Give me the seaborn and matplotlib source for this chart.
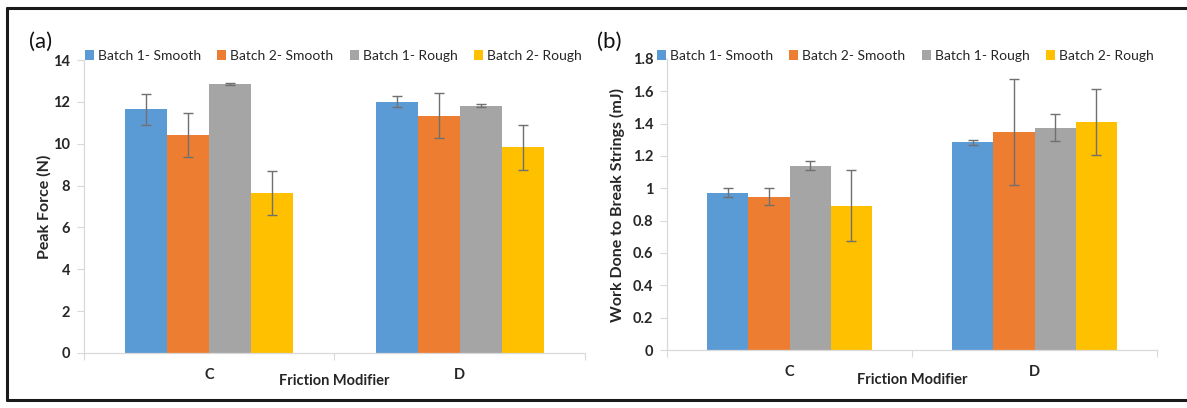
import matplotlib
matplotlib.use("Agg")
import matplotlib.pyplot as plt
import matplotlib.patches as mpatches
import matplotlib.lines as mlines
import seaborn as sns
import pandas as pd
import numpy as np

# ---- data ----
categories = ["C", "D"]
series = ["Batch 1- Smooth", "Batch 2- Smooth", "Batch 1- Rough", "Batch 2- Rough"]
colors = ["#5B9BD5", "#ED7D31", "#A5A5A5", "#FFC000"]

force_C = [11.64, 10.43, 12.85, 7.66]
force_D = [12.01, 11.34, 11.82, 9.83]
force_err_C = [0.73, 1.06, 0.04, 1.05]
force_err_D = [0.25, 1.07, 0.08, 1.07]

work_C = [0.974, 0.949, 1.139, 0.892]
work_D = [1.284, 1.348, 1.375, 1.41]
work_err_C = [0.027, 0.05, 0.027, 0.22]
work_err_D = [0.018, 0.33, 0.083, 0.205]

force_ticks = [0, 2, 4, 6, 8, 10, 12, 14]
force_ticklabels = ["0", "2", "4", "6", "8", "10", "12", "14"]
work_ticks = [0, 0.2, 0.4, 0.6, 0.8, 1.0, 1.2, 1.4, 1.6, 1.8]
work_ticklabels = ["0", "0.2", "0.4", "0.6", "0.8", "1", "1.2", "1.4", "1.6", "1.8"]

sns.set_style("white")
plt.rcParams["font.family"] = ["Lato", "DejaVu Sans"]

def long_df(vc, vd, ec, ed):
    rows = []
    for s, a, b, ea, eb in zip(series, vc, vd, ec, ed):
        rows.append({"cat": "C", "series": s, "val": a, "err": ea})
        rows.append({"cat": "D", "series": s, "val": b, "err": eb})
    return pd.DataFrame(rows)

df_a = long_df(force_C, force_D, force_err_C, force_err_D)
df_b = long_df(work_C, work_D, work_err_C, work_err_D)

fig = plt.figure(figsize=(11.87, 4.08), dpi=100)
W, H = 1187, 408

def make_axes(l, r, t, b):
    return fig.add_axes([l / W, 1 - b / H, (r - l) / W, (b - t) / H])

ax_a = make_axes(84, 585, 60, 353)
ax_b = make_axes(667, 1157, 59, 350)

GRAY = "#D9D9D9"
TXT = "#262626"

def draw(ax, df, ticks, ticklabels, ymax, ylabel, ylab_x, xlab_y, leg_x, panel, panel_x):
    sns.barplot(data=df, x="cat", y="val", hue="series", order=categories,
                hue_order=series, palette=colors, width=0.67, errorbar=None,
                saturation=1, linewidth=0, ax=ax, legend=False)
    for cont, s in zip(ax.containers, series):
        sub = df[df.series == s].set_index("cat").loc[categories]
        xs = [p.get_x() + p.get_width() / 2 for p in cont]
        ys = [p.get_height() for p in cont]
        ax.errorbar(xs, ys, yerr=sub["err"].values, fmt="none", ecolor="#707070",
                    elinewidth=1.0, capsize=3.5, capthick=1.0, zorder=5)
    ax.set_xlim(-0.5, 1.5)
    ax.set_ylim(0, ymax)
    ax.set_yticks(ticks)
    ax.set_yticklabels(ticklabels, fontsize=10.5, fontweight="bold", color=TXT)
    ax.tick_params(axis="y", length=5, width=0.8, color=GRAY, pad=5, left=True)
    ax.set_xticks([-0.5, 0.5, 1.5])
    ax.set_xticklabels(["", "", ""])
    ax.set_xticks([0, 1], minor=True)
    ax.set_xticklabels(categories, minor=True, fontsize=10.5, fontweight="bold", color=TXT)
    ax.tick_params(axis="x", which="major", length=5, width=0.8, color=GRAY, bottom=True)
    ax.tick_params(axis="x", which="minor", length=0, pad=11)
    ax.set_xlabel("Friction Modifier", fontsize=10.5, fontweight="bold", color=TXT)
    ax.xaxis.set_label_coords(0.5, xlab_y)
    ax.set_ylabel(ylabel, fontsize=11.5, fontweight="bold", color=TXT)
    ax.yaxis.set_label_coords(ylab_x, 0.5)
    for sp in ["top", "right"]:
        ax.spines[sp].set_visible(False)
    for sp in ["left", "bottom"]:
        ax.spines[sp].set_color(GRAY)
        ax.spines[sp].set_linewidth(0.9)
    handles = [mpatches.Patch(facecolor=c, edgecolor="none", label=s) for c, s in zip(colors, series)]
    fig.legend(handles=handles, ncol=4, loc="center left",
               bbox_to_anchor=(leg_x / W, 1 - 56 / H), frameon=False,
               fontsize=10, handlelength=0.65, handleheight=0.65, handletextpad=0.3,
               columnspacing=1.15, borderaxespad=0, borderpad=0,
               labelcolor=TXT)
    fig.text(panel_x / W, 1 - 42 / H, panel, fontsize=16, color="#111111",
             ha="left", va="center")

draw(ax_a, df_a, force_ticks, force_ticklabels, 14, "Peak Force (N)",
     -0.064, -0.072, 85, "(a)", 29)
draw(ax_b, df_b, work_ticks, work_ticklabels, 1.8, "Work Done to Break Strings (mJ)",
     -0.086, -0.079, 657, "(b)", 597)

# outer frame (left, top, bottom edges)
fx0, fy_top, fy_bot = 7 / W, 1 - 8 / H, 1 - 400 / H
for xs, ys in [([fx0, fx0], [fy_bot, fy_top]), ([fx0, 1.0], [fy_top, fy_top]), ([fx0, 1.0], [fy_bot, fy_bot])]:
    fig.add_artist(mlines.Line2D(xs, ys, transform=fig.transFigure, color="#1A1A1A", linewidth=2.2))

fig.savefig("out.png", dpi=100)
